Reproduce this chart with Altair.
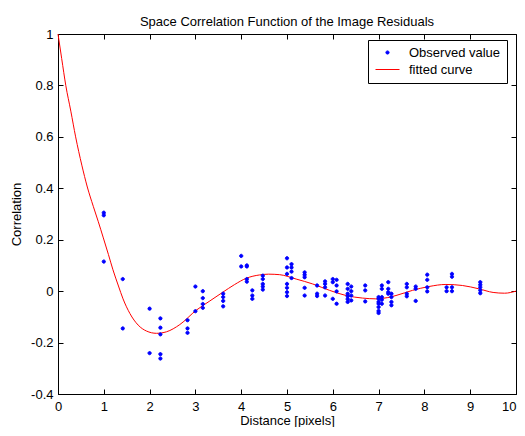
import altair as alt
import pandas as pd

# Observed values (distance, correlation)
obs_x = [1, 1, 1,
         1.414, 1.414,
         2, 2,
         2.236, 2.236, 2.236, 2.236, 2.236,
         2.828, 2.828, 2.828,
         3, 3,
         3.162, 3.162, 3.162, 3.162,
         3.606, 3.606, 3.606, 3.606,
         4, 4,
         4.123, 4.123, 4.123, 4.123,
         4.243, 4.243, 4.243,
         4.472, 4.472, 4.472, 4.472, 4.472,
         5, 5, 5, 5, 5, 5, 5,
         5.099, 5.099, 5.099, 5.099,
         5.385, 5.385, 5.385, 5.385, 5.385,
         5.657, 5.657, 5.657,
         5.831, 5.831, 5.831, 5.831,
         6, 6, 6,
         6.083, 6.083, 6.083, 6.083,
         6.325, 6.325, 6.325, 6.325, 6.325, 6.325,
         6.403, 6.403, 6.403, 6.403,
         6.708, 6.708, 6.708,
         7, 7, 7, 7, 7, 7, 7,
         7.071, 7.071, 7.071, 7.071, 7.071,
         7.211, 7.211, 7.211, 7.211,
         7.28, 7.28, 7.28, 7.28,
         7.616, 7.616, 7.616, 7.616,
         7.81, 7.81, 7.81,
         8.062, 8.062, 8.062, 8.062,
         8.485, 8.485,
         8.602, 8.602, 8.602, 8.602,
         9.22, 9.22, 9.22, 9.22, 9.22]
obs_y = [0.305, 0.295, 0.115,
         0.047, -0.145,
         -0.068, -0.241,
         -0.106, -0.142, -0.168, -0.245, -0.262,
         -0.113, -0.145, -0.162,
         0.018, -0.078,
         0.0, -0.027, -0.05, -0.065,
         -0.010, -0.023, -0.038, -0.059,
         0.137, 0.096,
         0.1, 0.096, 0.047, 0.037,
         0.003, -0.017, -0.03,
         0.06, 0.047, 0.028, 0.018, 0.006,
         0.128, 0.092, 0.067, 0.028, 0.013, -0.004, -0.019,
         0.105, 0.092, 0.076, 0.051,
         0.073, 0.064, 0.054, 0.013, -0.017,
         0.022, -0.010, -0.019,
         0.038, 0.028, 0.015, -0.017,
         0.047, 0.035, -0.03,
         0.044, 0.022, -0.001, -0.049,
         0.028, 0.009, -0.01, -0.02, -0.031, -0.042,
         0.018, 0.0, -0.017, -0.036,
         0.022, 0.003, -0.04,
         -0.023, -0.03, -0.042, -0.049, -0.062, -0.077, -0.085,
         0.022, 0.009, -0.023, -0.033, -0.049,
         0.035, 0.009, -0.004, -0.01,
         -0.01, -0.023, -0.042, -0.055,
         0.028, 0.015, -0.01, -0.02,
         0.018, 0.009, -0.038,
         0.064, 0.044, 0.015, -0.001,
         0.015, 0.0,
         0.067, 0.056, 0.015, 0.0,
         0.035, 0.025, 0.015, 0.003, -0.008]

# Fitted curve
fit_x = [0, 0.08, 0.17, 0.28, 0.385, 0.52, 0.64, 0.77, 0.88, 0.99, 1.1, 1.2, 1.32,
         1.42, 1.57, 1.75, 1.93, 2.15, 2.37, 2.66, 3.02, 3.3, 3.6, 3.85, 4.11, 4.4,
         4.6, 4.84, 5.2, 5.56, 5.93, 6.29, 6.65, 6.94, 7.2, 7.38, 7.74, 8.1, 8.47,
         8.83, 9.19, 9.5, 9.75, 10]
fit_y = [1.0, 0.905, 0.8, 0.70, 0.6, 0.49, 0.405, 0.33, 0.27, 0.207, 0.143, 0.083, 0.02,
         -0.03, -0.087, -0.132, -0.155, -0.164, -0.158, -0.13, -0.074, -0.04, -0.004, 0.025, 0.05, 0.063,
         0.066, 0.064, 0.047, 0.028, 0.003, -0.017, -0.027, -0.03, -0.025, -0.017, 0.003, 0.018, 0.026,
         0.022, 0.009, -0.005, -0.008, 0.0]

series = ["Observed value", "fitted curve"]
colors = ["#0000FF", "#FF0000"]
x_ticks = [0, 1, 2, 3, 4, 5, 6, 7, 8, 9, 10]
y_ticks = [-0.4, -0.2, 0, 0.2, 0.4, 0.6, 0.8, 1]

obs = pd.DataFrame({"x": obs_x, "y": obs_y, "series": series[0]})
fit = pd.DataFrame({"x": fit_x, "y": fit_y, "series": series[1]})

W, H = 458, 360
FONT = "Liberation Sans"
FS = 13

dot_path = "M-0.27,0a0.27,0.27 0 1,0 0.54,0a0.27,0.27 0 1,0 -0.54,0Z"
line_path = "M-2,0L2,0"
SYM = 144

xscale = alt.Scale(domain=[0, 10], nice=False, zero=False)
yscale = alt.Scale(domain=[-0.4, 1], nice=False, zero=False)

xaxis = alt.Axis(values=x_ticks, title="Distance [pixels]", grid=True,
                 gridDash=[5, H - 10, 5, 2000], gridColor="black", gridOpacity=1,
                 ticks=False, labelPadding=6, titlePadding=1, labelFlush=False,
                 labelExpr="'' + datum.value",
                 labelAlign=alt.ConditionalAxisLabelAlign(
                     condition={"test": "datum.value == 10", "value": "right"},
                     value="center"))
yaxis = alt.Axis(values=y_ticks, title="Correlation", grid=True,
                 gridDash=[5, W - 10, 5, 2000], gridColor="black", gridOpacity=1,
                 ticks=False, labelPadding=5, titlePadding=7, labelFlush=False,
                 labelExpr="'' + datum.value")

color = alt.Color("series:N", scale=alt.Scale(domain=series, range=colors),
                  legend=alt.Legend(title=None, orient="none", legendX=310, legendY=6,
                                    fillColor="white", strokeColor="black",
                                    padding=6, rowPadding=3, symbolSize=SYM,
                                    symbolOffset=7, symbolStrokeWidth=1,
                                    labelFontSize=FS, labelFont=FONT, labelColor="black",
                                    labelOffset=15, cornerRadius=0))
shape = alt.Shape("series:N", scale=alt.Scale(domain=series, range=[dot_path, line_path]))

points = alt.Chart(obs).mark_point(filled=True, size=SYM, opacity=1, strokeWidth=1).encode(
    x=alt.X("x:Q", scale=xscale, axis=xaxis),
    y=alt.Y("y:Q", scale=yscale, axis=yaxis),
    color=color,
    stroke=alt.Stroke("series:N", scale=alt.Scale(domain=series, range=colors)),
    shape=shape,
)

curve = alt.Chart(fit).mark_line(strokeWidth=1, interpolate="monotone").encode(
    x=alt.X("x:Q", scale=xscale),
    y=alt.Y("y:Q", scale=yscale),
    color=color,
)

chart = alt.layer(curve, points).properties(
    width=W, height=H,
    title=alt.TitleParams("Space Correlation Function of the Image Residuals",
                          fontSize=FS, font=FONT, fontWeight="normal", color="black",
                          anchor="middle", offset=-1),
    autosize=alt.AutoSizeParams(type="none"),
    padding={"left": 50, "top": 26, "right": 1, "bottom": 33},
).configure(background="white").configure_view(
    stroke="black", strokeWidth=1
).configure_axis(
    domainColor="black", labelColor="black", titleColor="black",
    labelFont=FONT, titleFont=FONT, labelFontSize=FS, titleFontSize=FS,
    titleFontWeight="normal",
)

chart.save("out.html", embed_options={"renderer": "svg", "actions": False})
